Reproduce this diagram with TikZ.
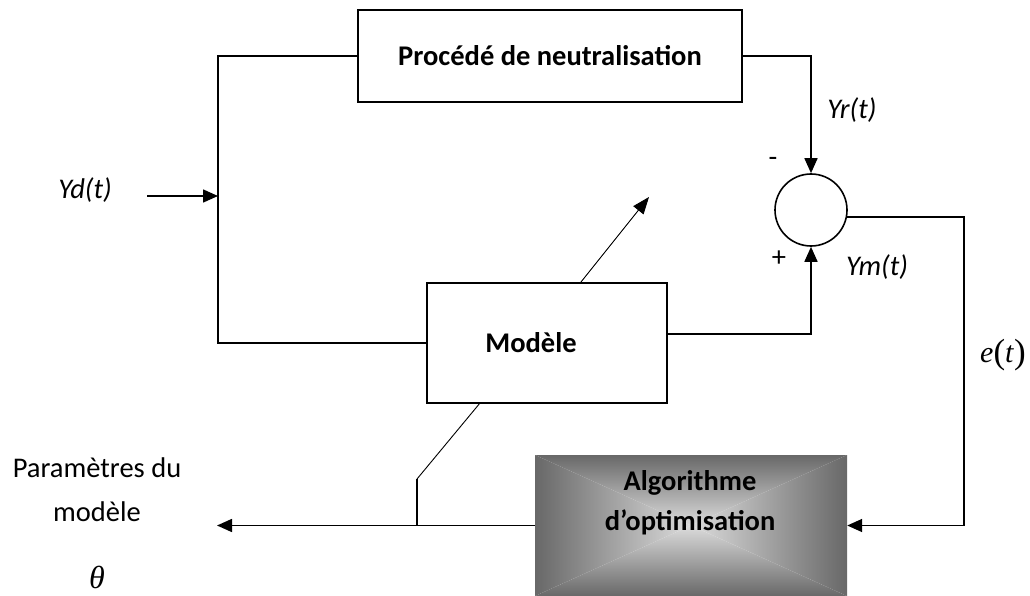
\documentclass[tikz,border=0pt]{standalone}
\usepackage{fontspec}
\setmainfont{Carlito}
\newfontfamily\serifmath{Liberation Serif}
\usetikzlibrary{arrows.meta,calc}

\definecolor{edgegray}{RGB}{104,104,104}
\definecolor{midgray}{RGB}{220,220,220}

\begin{document}
\begin{tikzpicture}[x=1pt,y=-1pt,
  every node/.style={inner sep=0pt},
  lbl/.style={font=\fontsize{28.5}{40}\selectfont},
  ilbl/.style={font=\fontsize{28.5}{40}\selectfont\itshape},
  btext/.style={font=\fontsize{28.5}{40}\selectfont\bfseries, align=center},
  block/.style={draw, line width=1.6pt},
  wire/.style={line width=1.6pt},
  fine/.style={line width=0.9pt},
  flow/.style={wire, -{Triangle[length=15pt,width=13pt]}},
  shadedbox/.style={path picture={
    \coordinate (pnw) at (path picture bounding box.north west);
    \coordinate (pne) at (path picture bounding box.north east);
    \coordinate (psw) at (path picture bounding box.south west);
    \coordinate (pse) at (path picture bounding box.south east);
    \coordinate (pc)  at (path picture bounding box.center);
    \shade[top color=edgegray, bottom color=midgray] (pnw) -- (pne) -- (pc) -- cycle;
    \shade[top color=midgray, bottom color=edgegray] (psw) -- (pse) -- (pc) -- cycle;
    \shade[left color=edgegray, right color=midgray] (pnw) -- (psw) -- (pc) -- cycle;
    \shade[left color=midgray, right color=edgegray] (pne) -- (pse) -- (pc) -- cycle;
  }}]
\useasboundingbox (0,0) rectangle (1030,596);

% blocks
\node[block, minimum width=384pt, minimum height=92pt, btext] (proc) at (550,56) {Procédé de neutralisation};
\node[block, minimum width=240pt, minimum height=120pt] (model) at (547,343) {};
\node[btext] (modeltxt) at (531,343) {Modèle};
\node[circle, draw, line width=1.6pt, minimum size=72pt] (sum) at (811,210) {};
\node[minimum width=312pt, minimum height=141pt, shadedbox] (algo) at (691,525.5) {};
\node[btext] (algotxt) at (690,503) {Algorithme\\d’optimisation};

% signal connections
\coordinate (ydin) at (147,196);
\coordinate (ydj) at (218,196);
\draw[flow] (ydin) -- (ydj);
\coordinate (bl) at (218,343);
\draw[wire] (proc.west) -| (bl) -- (model.west);
\draw[flow] (proc.east) -| (sum.north);
\draw[flow] ([yshift=9pt]model.east) -| (sum.south);
\coordinate (ecx) at (964,525.5);
\draw[flow] (sum.-11) -| (ecx) -- (algo.east);
\coordinate (pout) at (217,525.5);
\draw[flow] (algo.west) -- (pout);
\coordinate (br) at (417,525.5);
\coordinate (brk) at (417,479);
\draw[wire] (br) -- (brk);
\draw[fine] (brk) -- ($(model.south west)!0.22!(model.south east)$);
\coordinate (adj) at (649,197);
\draw[fine, -{Triangle[length=17pt,width=13pt]}] ($(model.north west)!0.64!(model.north east)$) -- (adj);

% labels
\node[ilbl] (yd) at (85,190) {Yd(t)};
\node[ilbl] (yr) at (852,110) {Yr(t)};
\node[ilbl] (ym) at (877,267) {Ym(t)};
\node[lbl] (minus) at (773,162) {-};
\node[lbl] (plus) at (779,259) {+};
\node[lbl, align=center, font=\fontsize{28.5}{44}\selectfont] (params) at (97,490) {Paramètres du\\modèle};
\node (theta) at (97,577) {\serifmath\itshape\fontsize{32}{32}\selectfont θ};
\node (err) at (1003,355) {\serifmath\fontsize{30}{30}\selectfont\textit{e}\raisebox{-1pt}{\fontsize{35}{35}\selectfont(}\textit{t}\raisebox{-1pt}{\fontsize{35}{35}\selectfont)}};
\end{tikzpicture}
\end{document}
